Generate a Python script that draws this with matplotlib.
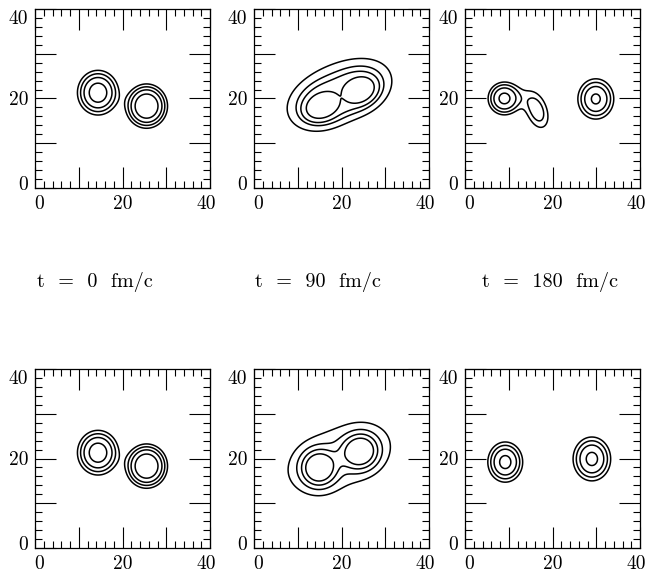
import numpy as np
import matplotlib
matplotlib.use('Agg')
import matplotlib.pyplot as plt
import matplotlib.transforms as mtransforms

plt.rcParams['font.family'] = ['cmr10', 'DejaVu Serif']
plt.rcParams['axes.formatter.use_mathtext'] = True

# blobs: (x0, y0, width_a, width_b, angle_deg, amplitude, power)
blobs_t0 = [(14.4, 21.3, 3.54, 3.76, 0, 0.99, 2),
            (25.5, 18.3, 3.35, 3.46, 0, 1.32, 2)]
blobs_t90_top = [(19.35, 21.31, 10.0, 5.5, 22, 0.25, 1.5),
                 (15.7, 18.5, 4.1, 2.9, 22, 1.0, 6),
                 (23.9, 21.9, 3.9, 2.9, 22, 1.0, 6),
                 (15.7, 18.5, 4.5, 3.4, 22, 0.3, 2),
                 (23.9, 21.9, 4.5, 3.4, 22, 0.3, 2)]
blobs_t180_top = [(8.9, 20.0, 2.88, 2.88, 0, 0.81, 2),
                  (16.5, 17.2, 4.3, 2.5, -70, 0.37, 2),
                  (12.5, 20.2, 3.8, 3.0, 0, 0.10, 2),
                  (29.9, 19.9, 3.31, 3.63, 0, 0.79, 2)]
blobs_t90_bot = [(19.35, 20.2, 10.0, 5.5, 21, 0.25, 1.5),
                 (14.8, 17.9, 3.2, 3.2, 21, 1.0, 2),
                 (24.3, 21.6, 3.3, 3.1, 21, 1.0, 2)]
blobs_t180_bot = [(9.2, 19.2, 3.14, 3.54, 0, 0.85, 2),
                  (29.0, 19.9, 3.41, 3.89, 0, 0.83, 2)]

levels_single = [0.17, 0.28, 0.44, 0.72]
levels_t90_top = [0.072, 0.13, 0.2, 0.75]
levels_t90_bot = [0.074, 0.176, 0.33, 0.546]

panels = [blobs_t0, blobs_t90_top, blobs_t180_top,
          blobs_t0, blobs_t90_bot, blobs_t180_bot]
panel_levels = [levels_single, levels_t90_top, levels_single,
                levels_single, levels_t90_bot, levels_single]
time_labels = ['t  =  0  fm/c', 't  =  90  fm/c', 't  =  180  fm/c']
tick_vals = [0, 10, 20, 30, 40]
tick_text = ['0', '', '20', '', '40']


def density(xx, yy, blobs):
    z = np.zeros_like(xx)
    for x0, y0, wa, wb, ang, amp, p in blobs:
        t = np.deg2rad(ang)
        da = (xx - x0) * np.cos(t) + (yy - y0) * np.sin(t)
        db = -(xx - x0) * np.sin(t) + (yy - y0) * np.cos(t)
        q = (da / wa) ** 2 + (db / wb) ** 2
        z += amp * np.exp(-q ** (p / 2))
    return z


def nudge(label, dx, dy):
    off = mtransforms.ScaledTranslation(dx / 100, dy / 100, fig.dpi_scale_trans)
    label.set_transform(label.get_transform() + off)


W, H = 649, 577
fig = plt.figure(figsize=(W / 100, H / 100), dpi=100)

lefts = [35, 254, 465]
tops = [9, 369]
pw, ph = 175, 179

g = np.linspace(0, 40, 401)
xx, yy = np.meshgrid(g, g)

for i, (blobs, lev) in enumerate(zip(panels, panel_levels)):
    r, c = divmod(i, 3)
    ax = fig.add_axes([lefts[c] / W, 1 - (tops[r] + ph) / H, pw / W, ph / H])
    ax.contour(xx, yy, density(xx, yy, blobs), levels=lev,
               colors='black', linewidths=1.1)
    ax.set_xlim(0, 40)
    ax.set_ylim(0, 40)
    ax.set_xticks(tick_vals)
    ax.set_yticks(tick_vals)
    ax.set_xticklabels(tick_text)
    ax.set_yticklabels(tick_text)
    ax.set_xticks(np.arange(0, 41, 2), minor=True)
    ax.set_yticks(np.arange(0, 41, 2), minor=True)
    ax.tick_params(which='both', direction='in', top=True, right=True,
                   width=0.8, labelsize=14, pad=5)
    ax.tick_params(which='major', length=15)
    ax.tick_params(which='minor', length=5)
    for s in ax.spines.values():
        s.set_linewidth(0.9)
    xl = ax.get_xticklabels()
    yl = ax.get_yticklabels()
    nudge(xl[0], 4, 0)
    nudge(xl[-1], -4, 0)
    nudge(yl[0], 0, 5)
    nudge(yl[-1], 0, -8)

text_x = [37, 255, 482]
for tx, lab in zip(text_x, time_labels):
    fig.text(tx / W, 1 - 282 / H, lab, ha='left', va='center', fontsize=14.5)

fig.savefig('out.png', dpi=100)
